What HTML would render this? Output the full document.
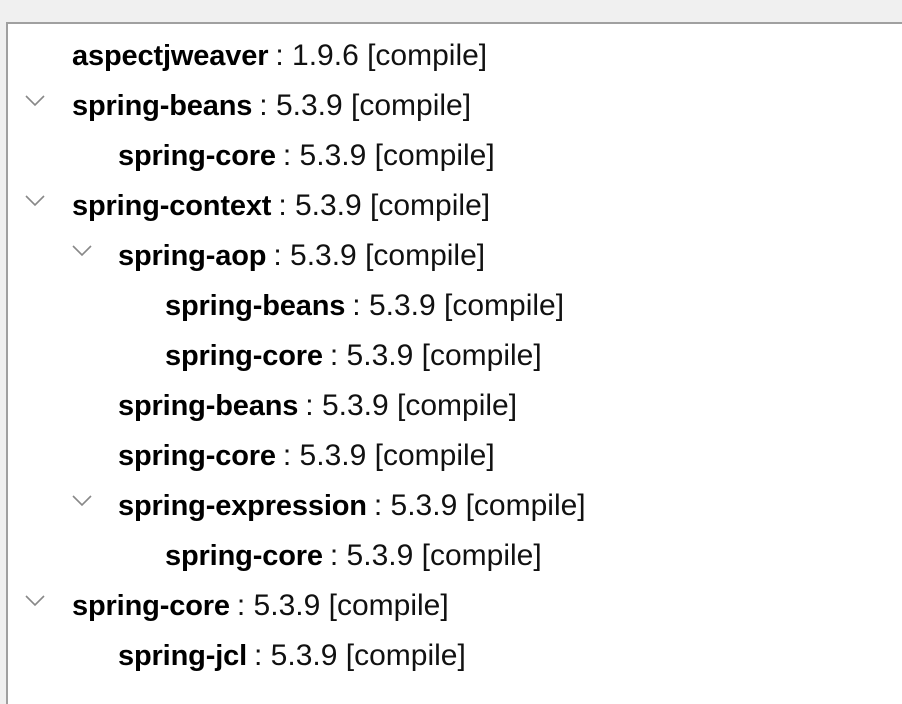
<!DOCTYPE html>
<html><head><meta charset="utf-8"><style>
body{margin:0;width:902px;height:692px;background:#f0f0f0;position:relative;overflow:hidden;font-family:"Liberation Sans",sans-serif}
.panel{position:absolute;left:6px;top:22px;width:900px;height:680px;background:#fff;border-left:2px solid #a0a0a0;border-top:2px solid #a0a0a0}
.r{position:absolute;font-size:30px;color:#111;white-space:nowrap;line-height:30px}
.r b{font-weight:bold;color:#000;font-size:29px;letter-spacing:-0.15px;margin-right:7px}
</style></head><body>
<div class="panel"></div>
<svg style="position:absolute;left:0;top:0" width="902" height="692">
<g fill="none" stroke="#888" stroke-width="1.6">
<polyline points="26,96 35,105 44,96"/>
<polyline points="26,196 35,205 44,196"/>
<polyline points="73,246 82,255 91,246"/>
<polyline points="73,496 82,505 91,496"/>
<polyline points="26,596 35,605 44,596"/>
</g></svg>
<div class="r" style="left:72px;top:41px"><b>aspectjweaver</b>: 1.9.6 [compile]</div>
<div class="r" style="left:72px;top:91px"><b>spring-beans</b>: 5.3.9 [compile]</div>
<div class="r" style="left:118px;top:141px"><b>spring-core</b>: 5.3.9 [compile]</div>
<div class="r" style="left:72px;top:191px"><b>spring-context</b>: 5.3.9 [compile]</div>
<div class="r" style="left:118px;top:241px"><b>spring-aop</b>: 5.3.9 [compile]</div>
<div class="r" style="left:165px;top:291px"><b>spring-beans</b>: 5.3.9 [compile]</div>
<div class="r" style="left:165px;top:341px"><b>spring-core</b>: 5.3.9 [compile]</div>
<div class="r" style="left:118px;top:391px"><b>spring-beans</b>: 5.3.9 [compile]</div>
<div class="r" style="left:118px;top:441px"><b>spring-core</b>: 5.3.9 [compile]</div>
<div class="r" style="left:118px;top:491px"><b>spring-expression</b>: 5.3.9 [compile]</div>
<div class="r" style="left:165px;top:541px"><b>spring-core</b>: 5.3.9 [compile]</div>
<div class="r" style="left:72px;top:591px"><b>spring-core</b>: 5.3.9 [compile]</div>
<div class="r" style="left:118px;top:641px"><b>spring-jcl</b>: 5.3.9 [compile]</div>
</body></html>
